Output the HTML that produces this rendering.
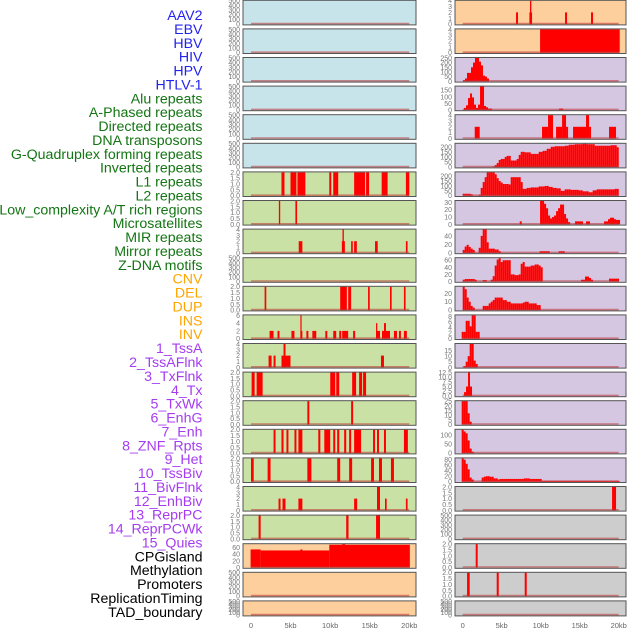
<!DOCTYPE html>
<html><head><meta charset="utf-8"><style>
html,body{margin:0;padding:0;background:#fff;width:630px;height:630px;overflow:hidden}
svg{display:block;font-family:"Liberation Sans",sans-serif}
</style></head><body>
<svg id="chart" width="630" height="630" viewBox="0 0 630 630" xmlns="http://www.w3.org/2000/svg"></svg>
<script>
const labels=["AAV2","EBV","HBV","HIV","HPV","HTLV-1","Alu repeats","A-Phased repeats","Directed repeats","DNA transposons","G-Quadruplex forming repeats","Inverted repeats","L1 repeats","L2 repeats","Low_complexity A/T rich regions","Microsatellites","MIR repeats","Mirror repeats","Z-DNA motifs","CNV","DEL","DUP","INS","INV","1_TssA","2_TssAFlnk","3_TxFlnk","4_Tx","5_TxWk","6_EnhG","7_Enh","8_ZNF_Rpts","9_Het","10_TssBiv","11_BivFlnk","12_EnhBiv","13_ReprPC","14_ReprPCWk","15_Quies","CPGisland","Methylation","Promoters","ReplicationTiming","TAD_boundary"];
const labelGroups=[6,13,5,15,5];
const groupColors=["#2323ee","#137513","#ffa500","#a53cf0","#000000"];
const xTickValues=[0,5,10,15,20];
const xTickLabels=["0","5kb","10kb","15kb","20kb"];
const leftBg=["b","b","b","b","b","b","g","g","g","g","g","g","g","g","g","g","g","g","g","o","o","o"];
const rightBg=["o","o","p","p","p","p","p","p","p","p","p","p","p","p","p","p","p","y","y","y","y","y"];
const leftYmax=[500,500,500,500,500,500,2,2,4,500,2,6,4,2,2,2,2,4,2,70,500,500];
const rightYmax=[4,4,250,178,4,230,240,32,55,66,28,8.5,21,12.5,25,130,85,2,500,2,2,500];
const T500=["0","100","200","300","400","500"],T2=["0.0","0.5","1.0","1.5","2.0"],T4=["0","1","2","3","4"];
const leftTicks=[T500,T500,T500,T500,T500,T500,T2,T2,T4,T500,T2,["0","2","4","6"],T4,T2,T2,T2,T2,T4,T2,["0","20","40","60"],T500,T500];
const rightTicks=[T4,T4,["0","50","100","150","200","250"],["0","50","100","150"],T4,["0","50","100","150","200"],["0","50","100","150","200"],["0","10","20","30"],["0","20","40"],["0","20","40","60"],["0","10","20"],["0","2","4","6","8"],["0","5","10","15"],["0.0","2.5","5.0","7.5","10.0","12.5"],["0","5","10","15","20","25"],["0","50","100"],["0","20","40","60","80"],T2,T500,T2,T2,T500];
// segments [startKb, endKb, value]
const leftSegs=[[],[],[],[],[],[],
[[3.85,4.23,2],[4.99,5.74,2],[5.87,6.87,2],[9.89,10.14,2],[10.39,11.02,2],[13.03,14.41,2],[14.54,14.92,2],[16.51,17.26,2],[19.57,20,2]],
[[3.52,3.69,2],[5.61,5.82,2]],
[[6.03,6.49,2],[11.48,11.86,2],[11.56,11.73,4],[12.65,12.86,2],[13.03,13.37,2],[15.67,16.01,2],[19.57,19.78,2]],
[],
[[1.72,1.93,2],[11.27,12.11,2],[12.28,12.65,2],[14.79,15.0,2],[17.56,17.77,2],[19.32,19.53,2]],
[[2.35,2.85,2],[3.35,3.6,2],[5.11,5.49,2],[6.24,6.49,2],[6.24,6.37,6],[7.0,7.25,2],[7.75,8.25,2],[9.39,9.64,2],[10.39,10.77,2],[11.15,11.4,2],[11.52,12.28,2],[12.9,13.16,2],[15.8,16.3,2],[15.8,15.92,4],[16.55,17.56,2],[16.8,17.05,4],[18.06,18.44,2],[18.69,18.94,2],[19.32,19.69,2]],
[[2.22,2.6,2],[2.85,3.1,2],[3.85,4.99,2],[4.11,4.36,4],[16.42,16.8,2]],
[[0.08,0.46,2],[0.71,1.47,2],[10.01,10.64,2],[10.77,11.15,2],[12.78,13.28,2],[13.66,14.04,2],[14.16,14.54,2]],
[[7.12,7.37,2],[12.65,12.9,2]],
[[2.85,3.1,2],[3.85,4.11,2],[4.48,4.73,2],[5.49,5.74,2],[5.99,6.49,2],[8.5,8.76,2],[9.26,10.01,2],[10.39,10.64,2],[10.89,11.15,2],[11.77,12.03,2],[12.4,12.65,2],[13.03,13.91,2],[15.42,15.67,2],[15.92,16.17,2],[16.8,17.05,2],[19.32,19.82,2]],
[[0,0.34,2],[2.1,2.47,2],[7.12,7.63,2],[10.89,11.27,2],[12.4,12.78,2],[15.17,15.54,2],[16.17,16.55,2],[17.68,18.06,2]],
[[3.48,3.73,2],[3.98,4.36,2],[5.99,6.49,2],[13.03,13.41,2],[15.92,16.3,4],[16.93,17.14,2],[19.57,19.78,2]],
[[0.96,1.22,2],[12.03,12.32,2],[15.8,16.3,2]],
[[-0.05,1.22,54],[1.22,9.89,51],[6.24,6.49,54],[9.89,20.07,68],[11.52,11.9,70]],
[],[]];
const rightSegs=[
[[6.84,7.09,2],[8.55,8.89,2],[8.63,8.8,4],[13.12,13.38,2],[16.45,16.71,2]],
[[9.92,20.13,4]],[],[],
[[1.54,2.18,2],[10.17,10.94,2],[10.94,11.58,4],[11.97,12.74,2],[12.74,13.25,4],[13.25,13.51,2],[14.15,15.81,2],[15.81,16.2,4],[16.2,16.45,2],[18.76,19.66,2]],
[],[],[],[],[],[],[],[],[],[],[],
[[10.13,20.13,3]],
[[19.15,19.66,2]],[],[[1.67,1.92,2]],
[[0.56,0.9,2],[4.36,4.62,2],[7.95,8.21,2]],[]];
// histogram runs: [startKb, [values per 0.256kb bin]]
const rightRuns=[[],[],
[[0.04,[10,30,90,90,150,200,250,250,210,170,60,50,30]]],
[[0.17,[15,35,90,125,95,40,15,40,178,178,30,20,10,10]],[12.35,[10,10]]],
[],
[[3.85,[5,20,40,70,80,80,100,110,110,65,65,65,80,120,150,150,145,145,145,130,130,130,130,150,150,160,160,180,180,200,200,205,205,205,205,205,210,210,220,220,220,225,225,225,225,230,230,225,225,225,225,210,210,210,210,210,210,210,210,215,215,215,195]]],
[[0,[20,20,20,20,15,0,0,0,10,80,140,190,240,240,240,240,220,180,150,135,120,120,120,115,190,190,190,190,190,140,70,70,80,80,85,85,85,85,95,95,95,100,100,90,90,80,80,75,75,50,50,65,65,65,60,60,60,60,55,55,45,45,45,35,35,55,55,65,65,65,65,65,65,65,65,65,70,70]]],
[[7.31,[4]],[9.92,[32,32,28,22,12,8,10,12,18,22,27,27,14,8,3]],[14.4,[4,4,4,4]],[15.81,[4,4]],[18.12,[4,4,7,9,9,7,6,6]]],
[[0,[7,15,19,14,10,7,0,0,12,40,55,55,25,10,10,10,8,8,4]],[9.87,[4,4,4,4,4]],[12.31,[4,4,4]]],
[[0,[5,7,7,7,7,7,5,0,0,0,4,4,0,0,5,15,45,62,66,55,60,60,60,60,20,20,18,18,20,50,55,42,42,42,45,45,48,48,45,40]],[15.17,[5,5,14,14,10,5]],[18.76,[8,8,8,8,8]]],
[[0,[28,25,15,10,5,3,0,0,0,0,5,5,5,8,10,12,15,15,15,15,12,12,10,10,8,8,8,8,8,8,9,10,10,8,8,8,8,6,6]]],
[[-0.13,[2.5,2.5,6.5,6.5,4.5,8.5,8.5,2.5,2.5]]],
[[0.13,[1,5,10,21,21,6,3]]],
[[0.17,[2,5,12.5,5]]],
[[-0.13,[25,25,25,12,3]]],
[[-0.13,[130,120,110,70,25,8]]],
[[-0.13,[85,80,65,45,15,8,0,0,0,0,15,18,20,20,18,18,12,12,8,10,10,10,10,10,10,10,10,10,10,10,10,12,12,12,10,10,10,10,10,10]]],
[],[],[],[],[]];

const NS="http://www.w3.org/2000/svg";
const svg=document.getElementById('chart');
const BIN=0.2564;
const bgColors={b:"#c8e4eb",g:"#c9e1a4",o:"#fdcf9d",p:"#d5c6e2",y:"#cdcdcd"};
const cols=[{x0:243,x1:416,k0:251,k1:409.3},{x0:455,x1:626,k0:462.7,k1:618.7}];
function mk(tag,attrs,parent){const e=document.createElementNS(NS,tag);for(const k in attrs)e.setAttribute(k,attrs[k]);(parent||svg).appendChild(e);return e;}
function rowTop(i){return 0.3+28.6*i;}
function rowH(i){return i===21?15:24.6;}

let li=0;
labelGroups.forEach((n,g)=>{for(let j=0;j<n;j++){
  const t=mk('text',{x:202.5,y:15+li*13.88+5,'text-anchor':'end','font-size':14.2,fill:groupColors[g]});
  
  
  t.textContent=labels[li];li++;}});

function drawPanel(ci,ri,bg,ymax,ticks,segs,runs){
  const c=cols[ci],top=rowTop(ri),h=rowH(ri),bot=top+h;
  const g=mk('g',{});
  
  
  const r=mk('rect',{x:c.x0,y:top,width:c.x1-c.x0,height:h,fill:bgColors[bg]},g);
  
  
  const xs=k=>c.k0+(k/20)*(c.k1-c.k0);
  const ys=v=>bot-0.8-(Math.min(v,ymax)/ymax)*(h-1.2);
  const bars=[];
  segs.forEach(s=>bars.push([s[0],s[1],s[2]]));
  runs.forEach(run=>run[1].forEach((v,i)=>{if(v>0)bars.push([run[0]+i*BIN,run[0]+(i+1)*BIN,v]);}));
  bars.forEach(b=>{
    const x=Math.max(xs(b[0]),c.x0+0.5),x2=Math.min(xs(b[1]),c.x1-0.5),y=ys(b[2]);
    const br=mk('rect',{x:x,y:y,width:Math.max(x2-x,1.2),height:bot-0.8-y,fill:"#ff0000"},g);
    
    
  });
  const bl=mk('line',{x1:xs(0),x2:xs(20),y1:bot-1.3,y2:bot-1.3,stroke:"rgba(190,50,50,0.55)","stroke-width":1.6},g);
  
  
  const fr=mk('rect',{x:c.x0,y:top,width:c.x1-c.x0,height:h,fill:"none",stroke:"#555","stroke-width":1},g);
  
  
  ticks.forEach(lbl=>{
    const v=parseFloat(lbl);
    const t=mk('text',{x:c.x0-3,y:ys(v)+2.5,'text-anchor':'end','font-size':7,fill:"#777"},g);
    
    
    t.textContent=lbl;
  });
}
for(let i=0;i<22;i++){
  drawPanel(0,i,leftBg[i],leftYmax[i],leftTicks[i],leftSegs[i],[]);
  drawPanel(1,i,rightBg[i],rightYmax[i],rightTicks[i],rightSegs[i],rightRuns[i]);
}
cols.forEach((c,ci)=>{
  xTickValues.forEach((v,i)=>{
    const t=mk('text',{x:c.k0+(v/20)*(c.k1-c.k0),y:628,'text-anchor':'middle','font-size':7.5,fill:"#666"});
    
    
    t.textContent=xTickLabels[i];
  });
});
</script>
</body></html>
